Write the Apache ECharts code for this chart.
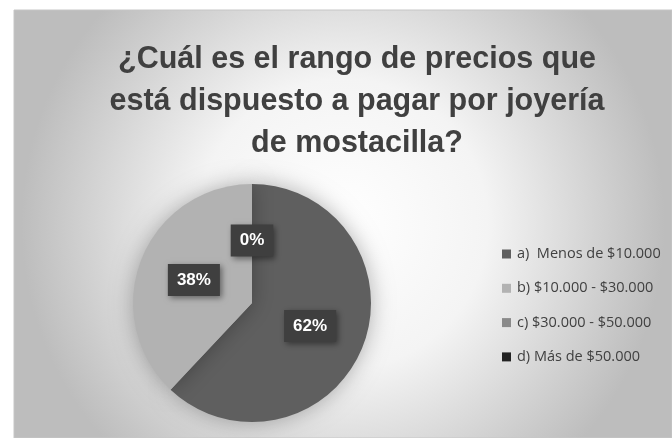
<!DOCTYPE html>
<html>
<head>
<meta charset="utf-8">
<script src="https://cdn.jsdelivr.net/npm/echarts@6/dist/echarts.min.js"></script>
<style>
  html, body { margin: 0; padding: 0; background: #ffffff; }
  #chart { width: 672px; height: 438px; }
</style>
</head>
<body>
<div id="chart"></div>
<script>
// Survey answers: price range respondents would pay for beaded jewellery
const titleText = '¿Cuál es el rango de precios que\nestá dispuesto a pagar por joyería\nde mostacilla?';
const categories = ['a)  Menos de $10.000', 'b) $10.000 - $30.000', 'c) $30.000 - $50.000', 'd) Más de $50.000'];
const percentages = [62, 38, 0, 0];
const sliceColors = ['#5f5f5f', '#b2b2b2', '#8a8a8a', '#222222'];

const chart = echarts.init(document.getElementById('chart'), null, { renderer: 'canvas' });

chart.setOption({
  animation: false,
  graphic: [{
    type: 'rect',
    z: -10,
    silent: true,
    shape: { x: 14, y: 10, width: 672 - 14, height: 438 - 10 },
    style: {
      fill: {
        type: 'radial', x: 0.5, y: 0.5, r: 0.75,
        colorStops: [
          { offset: 0, color: '#ffffff' },
          { offset: 0.45, color: '#f4f4f4' },
          { offset: 1, color: '#bdbdbd' }
        ]
      },
      stroke: '#c6c6c6',
      lineWidth: 1
    }
  }],
  title: {
    text: titleText,
    left: 352,
    top: 34,
    textAlign: 'center',
    textStyle: {
      fontFamily: '"Liberation Sans", Arial, sans-serif',
      fontWeight: 'bold',
      fontSize: 30.5,
      lineHeight: 42,
      color: '#404040'
    }
  },
  legend: {
    orient: 'vertical',
    left: 497,
    top: 241,
    itemWidth: 9,
    itemHeight: 9,
    itemGap: 18.3,
    icon: 'rect',
    data: categories,
    textStyle: {
      fontFamily: '"Open Sans", sans-serif',
      fontSize: 14.5,
      lineHeight: 16,
      color: '#404040',
      padding: [0, 0, 0, 1]
    }
  },
  series: [{
    type: 'pie',
    center: [252, 303],
    radius: [0, 119],
    startAngle: 90,
    clockwise: true,
    avoidLabelOverlap: false,
    itemStyle: {
      shadowBlur: 22,
      shadowColor: 'rgba(0,0,0,0.3)'
    },
    label: {
      show: true,
      position: 'inside',
      formatter: '{d}%',
      fontFamily: '"Liberation Sans", Arial, sans-serif',
      fontWeight: 'bold',
      fontSize: 17,
      color: '#ffffff',
      backgroundColor: '#3f3f3f',
      padding: [8, 9, 7, 9],
      shadowBlur: 6,
      shadowOffsetX: 2,
      shadowOffsetY: 2,
      shadowColor: 'rgba(0,0,0,0.45)'
    },
    labelLine: { show: false },
    emphasis: { disabled: true },
    data: categories.map((name, i) => ({
      name: name,
      value: percentages[i],
      itemStyle: { color: sliceColors[i] }
    }))
  }]
});
</script>
</body>
</html>
